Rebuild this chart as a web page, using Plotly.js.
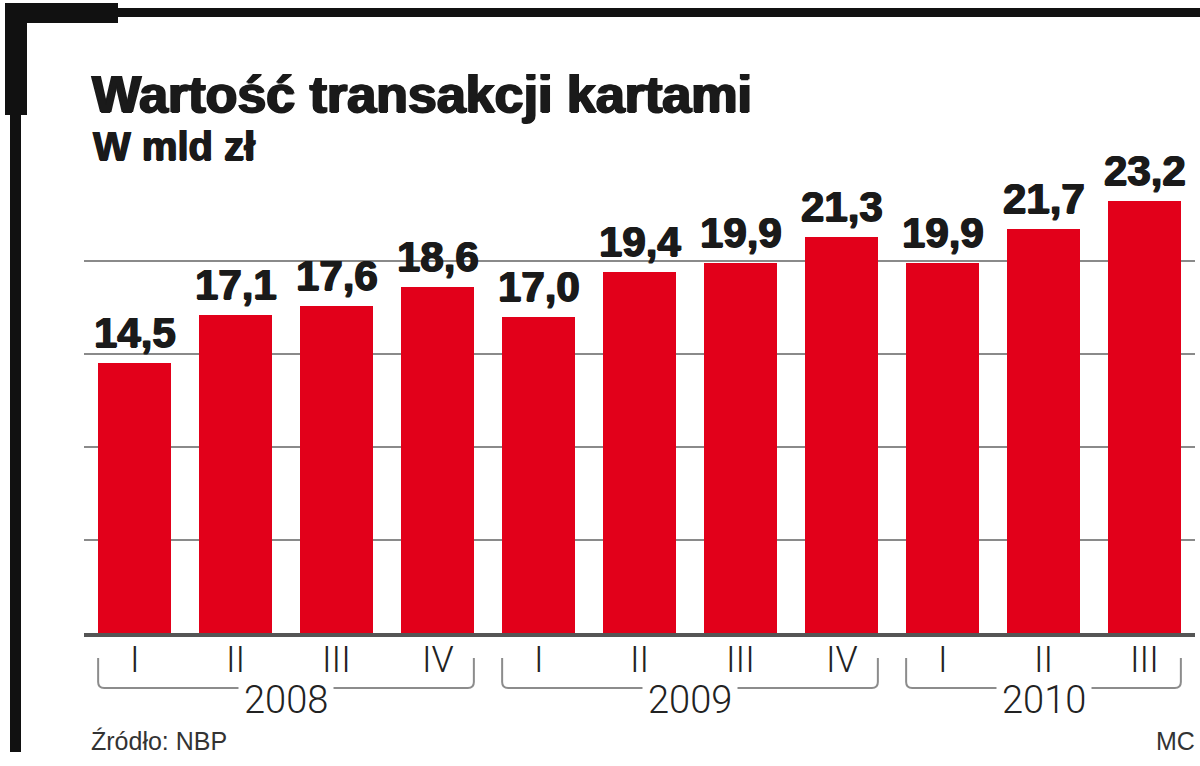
<!DOCTYPE html>
<html>
<head>
<meta charset="utf-8">
<script src="https://cdn.plot.ly/plotly-3.0.1.min.js"></script>
<style>
  html, body { margin: 0; padding: 0; background: #fff; }
  #chart { width: 1200px; height: 766px; }
</style>
</head>
<body>
<div id="chart"></div>
<script>
// Wartość transakcji kartami, w mld zł (źródło: NBP)
const quarters = ['I', 'II', 'III', 'IV', 'I', 'II', 'III', 'IV', 'I', 'II', 'III'];
const values = [14.5, 17.1, 17.6, 18.6, 17.0, 19.4, 19.9, 21.3, 19.9, 21.7, 23.2];
const years = ['2008', '2009', '2010'];
const yearFirst = [0, 4, 8];
const yearLast = [3, 7, 10];

const W = 1200, H = 766;
const M = {l: 84, r: 5, t: 168, b: 133};
const plotW = W - M.l - M.r;
const plotH = H - M.t - M.b;

// pixel -> paper helpers for the decoration around the plot
const px = (v) => (v - M.l) / plotW;
const py = (v) => (H - M.b - v) / plotH;

const RED = '#e2001a';
const INK = '#1a1a1a';
const BAR_W = 0.72;
// thickens the bold type a little, the original face is heavier than Liberation Bold
const HEAVY = `0.8px 0 0 ${INK}, -0.8px 0 0 ${INK}, 0 0.6px 0 ${INK}`;

const xs = values.map((v, i) => i);
const fmt = (v) => v.toFixed(1).replace('.', ',');

const bars = {
    type: 'bar',
    x: xs,
    y: values,
    width: BAR_W,
    marker: {color: RED, line: {width: 0}},
    hoverinfo: 'none',
};

const annotations = [];

// value labels above the bars
values.forEach((v, i) => {
    annotations.push({
        x: i, y: v, xref: 'x', yref: 'y',
        text: fmt(v),
        showarrow: false,
        yanchor: 'bottom',
        yshift: 5,
        font: {family: 'Liberation Sans, Arial, sans-serif', size: 42, weight: 700, color: INK, shadow: HEAVY},
    });
});

// quarter labels
quarters.forEach((q, i) => {
    annotations.push({
        x: i, y: py(660), xref: 'x', yref: 'paper',
        text: q,
        showarrow: false,
        yanchor: 'middle',
        font: {family: 'Roboto, Liberation Sans, sans-serif', size: 36, weight: 300, color: '#222'},
    });
});

// year labels, white box breaks the bracket line
years.forEach((y, k) => {
    annotations.push({
        x: (yearFirst[k] + yearLast[k]) / 2, y: py(700), xref: 'x', yref: 'paper',
        text: y,
        showarrow: false,
        yanchor: 'middle',
        bgcolor: '#fff',
        borderpad: 5,
        font: {family: 'Roboto, Liberation Sans, sans-serif', size: 38, weight: 300, color: '#222'},
    });
});

annotations.push({
    x: px(89), y: py(741), xref: 'paper', yref: 'paper',
    text: 'Źródło: NBP', showarrow: false, xanchor: 'left', yanchor: 'middle',
    font: {family: 'Liberation Sans, Arial, sans-serif', size: 25, color: '#333'},
});
annotations.push({
    x: px(1197), y: py(741), xref: 'paper', yref: 'paper',
    text: 'MC', showarrow: false, xanchor: 'right', yanchor: 'middle',
    font: {family: 'Liberation Sans, Arial, sans-serif', size: 25, color: '#333'},
});
annotations.push({
    x: px(91), y: py(146), xref: 'paper', yref: 'paper',
    text: 'W mld zł', showarrow: false, xanchor: 'left', yanchor: 'middle',
    font: {family: 'Liberation Sans, Arial, sans-serif', size: 40, weight: 700, color: INK, shadow: HEAVY},
});

const shapes = [];

// brackets under each year
const half = BAR_W / 2;
const rx = 6 / (plotW / 11), ry = 6 / plotH;
const yTop = py(658), yBot = py(688);
years.forEach((y, k) => {
    const x0 = yearFirst[k] - half, x1 = yearLast[k] + half;
    shapes.push({
        type: 'path', xref: 'x', yref: 'paper', layer: 'above',
        path: `M ${x0},${yTop} L ${x0},${yBot + ry} Q ${x0},${yBot} ${x0 + rx},${yBot} ` +
              `L ${x1 - rx},${yBot} Q ${x1},${yBot} ${x1},${yBot + ry} L ${x1},${yTop}`,
        line: {color: '#8c8c8c', width: 2},
    });
});

// black frame: top and left
const frame = [
    [10, 110, 21, 752],
    [5, 3, 27, 115],
    [110, 8, 1200, 17],
    [5, 3, 118, 23],
];
frame.forEach(([a, b, c, d]) => {
    shapes.push({
        type: 'rect', xref: 'paper', yref: 'paper', layer: 'above',
        x0: px(a), x1: px(c), y0: py(b), y1: py(d),
        fillcolor: '#111', line: {width: 0},
    });
});

const layout = {
    width: W,
    height: H,
    margin: M,
    paper_bgcolor: '#fff',
    plot_bgcolor: '#fff',
    showlegend: false,
    bargap: 0,
    title: {
        text: 'Wartość transakcji kartami',
        x: 92 / W, xanchor: 'left', xref: 'container',
        y: 1 - 94 / H, yanchor: 'middle', yref: 'container',
        font: {family: 'Liberation Sans, Arial, sans-serif', size: 52, weight: 700, color: INK,
               shadow: `1.2px 0 0 ${INK}, -1.2px 0 0 ${INK}, 0 1px 0 ${INK}`},
    },
    xaxis: {
        range: [-0.5, 10.5],
        showticklabels: false,
        ticks: '',
        showgrid: false,
        zeroline: false,
        showline: true,
        linecolor: '#555',
        linewidth: 4,
        fixedrange: true,
    },
    yaxis: {
        range: [0, 25],
        tickvals: [5, 10, 15, 20],
        showticklabels: false,
        ticks: '',
        showgrid: true,
        gridcolor: '#8a8a8a',
        gridwidth: 2,
        zeroline: false,
        showline: false,
        fixedrange: true,
    },
    annotations: annotations,
    shapes: shapes,
};

Plotly.newPlot('chart', [bars], layout, {displayModeBar: false, staticPlot: true});
</script>
</body>
</html>
